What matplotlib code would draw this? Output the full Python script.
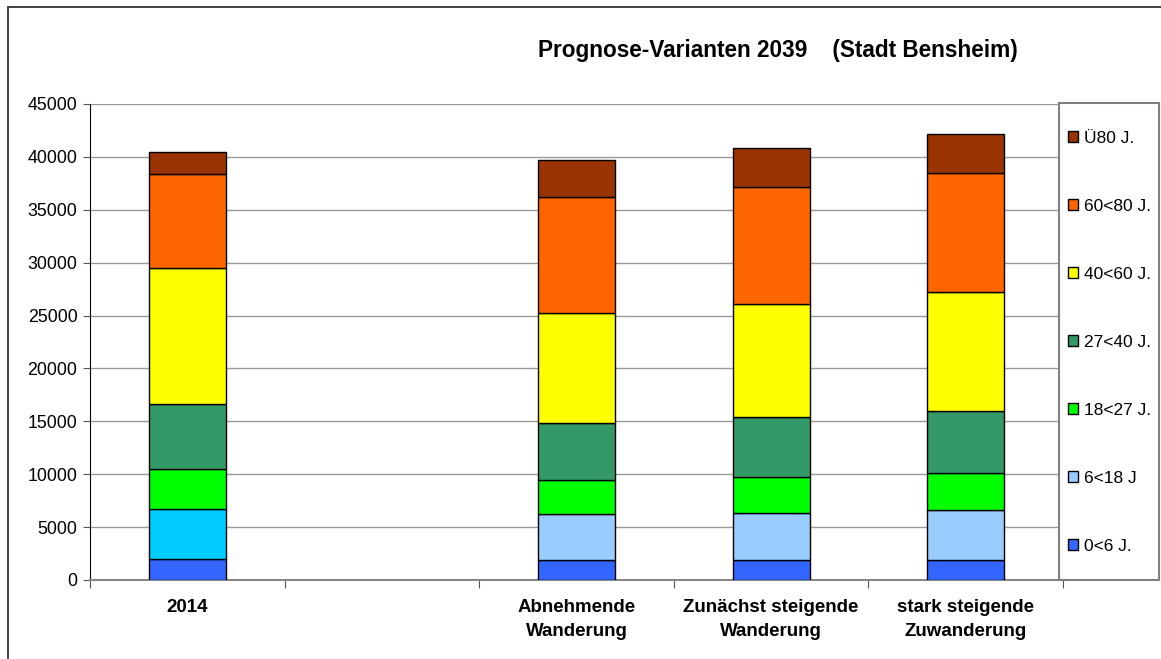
import matplotlib
matplotlib.use("Agg")
import matplotlib.pyplot as plt
from matplotlib.patches import Rectangle, Patch
import numpy as np

plt.rcParams['font.family'] = ['Liberation Sans', 'DejaVu Sans']

categories = ["2014", "", "Abnehmende\nWanderung", "Zunächst steigende\nWanderung",
              "stark steigende\nZuwanderung"]
age_groups = ["0<6 J.", "6<18 J", "18<27 J.", "27<40 J.", "40<60 J.", "60<80 J.", "Ü80 J."]

# population per age group, one value per category (empty slot = 0)
age_0_6 = [2000, 0, 1890, 1890, 1890]
age_6_18 = [4740, 0, 4320, 4470, 4720]
age_18_27 = [3780, 0, 3240, 3370, 3520]
age_27_40 = [6110, 0, 5420, 5670, 5820]
age_40_60 = [12820, 0, 10400, 10680, 11300]
age_60_80 = [8920, 0, 10930, 11090, 11200]
age_80 = [2050, 0, 3530, 3650, 3680]

series = [age_0_6, age_6_18, age_18_27, age_27_40, age_40_60, age_60_80, age_80]
colors = ["#3366FF", "#99CCFF", "#00FF00", "#339966", "#FFFF00", "#FF6600", "#993300"]
base_year_6_18_color = "#00CCFF"

W, H = 1161, 659
fig = plt.figure(figsize=(W / 100, H / 100), dpi=100)
fig.patch.set_facecolor("white")

# outer chart frame
fig.patches.append(Rectangle((7.5 / W, -0.1), 1.2, (H - 7) / H + 0.1, transform=fig.transFigure,
                             fill=False, edgecolor="#333333", linewidth=1.3))

ax = fig.add_axes([90 / W, (H - 580) / H, (1063 - 90) / W, (580 - 104) / H])
x = np.arange(len(categories))
bottom = np.zeros(len(categories))
for vals, col, lab in zip(series, colors, age_groups):
    vals = np.array(vals, dtype=float)
    bars = ax.bar(x, vals, width=0.395, bottom=bottom, color=col, edgecolor="black",
                  linewidth=1.0, label=lab, zorder=3)
    if lab == "6<18 J":
        bars[0].set_facecolor(base_year_6_18_color)
    for b, v in zip(bars, vals):
        if v == 0:
            b.set_visible(False)
    bottom += vals

ax.set_xlim(-0.5, len(categories) - 0.5)
ax.set_ylim(0, 45000)
ax.set_yticks(np.arange(0, 45001, 5000))
ax.yaxis.grid(True, color="#999999", linewidth=1.0, zorder=0)
ax.set_axisbelow(True)
for s in ["top", "right"]:
    ax.spines[s].set_visible(False)
ax.spines["left"].set_color("black")
ax.spines["bottom"].set_color("#888888")
ax.spines["bottom"].set_linewidth(1.5)
ax.tick_params(axis="y", labelsize=12.8, length=5, direction="out", pad=4, color="#555555")
ax.set_xticks(np.arange(-0.5, len(categories)), minor=False)
ax.set_xticklabels([])
ax.tick_params(axis="x", length=6, direction="out", color="#555555")
for xi, lab in zip(x, categories):
    ax.text(xi, -1800, lab, ha="center", va="top", fontsize=13.5, fontweight="bold",
            linespacing=1.5)

fig.text(778 / W, 1 - 50 / H, "Prognose-Varianten 2039    (Stadt Bensheim)", ha="center",
         va="center", fontsize=16.3, fontweight="bold")

# legend frame
fig.patches.append(Rectangle((1059 / W, (H - 580) / H), (1159 - 1059) / W, (580 - 103) / H,
                             transform=fig.transFigure, facecolor="white",
                             edgecolor="#808080", linewidth=1.5, zorder=5))
handles = [Patch(facecolor=c, edgecolor="black", linewidth=1.0) for c in colors]
leg = fig.legend(handles[::-1], age_groups[::-1], loc="upper left",
                 bbox_to_anchor=(1068 / W, 1 - 131 / H), frameon=False, fontsize=12.5,
                 handlelength=0.6, handleheight=0.6, handletextpad=0.35,
                 labelspacing=3.05, borderpad=0, borderaxespad=0)
leg.set_zorder(6)

fig.savefig("out.png", dpi=100)
